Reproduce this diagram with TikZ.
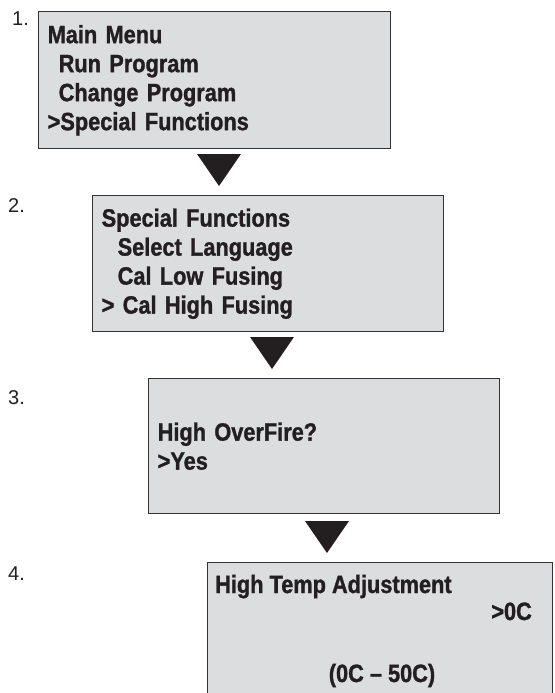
\documentclass[tikz,border=0pt]{standalone}
\usepackage{fontspec}
\setmainfont{Liberation Sans}
\newfontfamily\lcdfont[FakeStretch=0.87, BoldFeatures={FakeBold=1.2}]{Liberation Sans}
\usepackage{xcolor}
\usepackage{tikz}
\usetikzlibrary{positioning}

\definecolor{lcdgray}{HTML}{DCDDDF}
\definecolor{inkblack}{HTML}{231F20}

\tikzset{
  lcdbox/.style = {draw=black!80, line width=1.4pt, fill=lcdgray, align=left,
    anchor=north west, inner xsep=9pt, inner ysep=0pt,
    font=\lcdfont\fontsize{25}{29}\selectfont\bfseries, text=inkblack},
  lcdtext/.style = {inner sep=0pt, font=\lcdfont\fontsize{25}{29}\selectfont\bfseries, text=inkblack},
  steplabel/.style = {inner sep=0pt, anchor=base west, font=\fontsize{20}{22}\selectfont, text=inkblack},
  marker/.style = {fill=inkblack},
}

\begin{document}
\begin{tikzpicture}[x = 1pt, y = -1pt]
    \clip (0, 0) rectangle (554, 693);
    % step numbers
    \node[steplabel] (n1) at (12, 26) {1.};
    \node[steplabel] (n2) at (8, 212) {2.};
    \node[steplabel] (n3) at (8, 404) {3.};
    \node[steplabel] (n4) at (8, 580) {4.};
    % display screens
    \node[lcdbox, text width=334pt, minimum height=137pt] (menu) at (38, 11)
        {Main Menu\\\hspace*{11pt}Run Program\\\hspace*{11pt}Change Program\\>Special Functions};
    \node[lcdbox, text width=333pt, minimum height=136pt] (special) at (92, 195)
        {Special Functions\\\hspace*{16pt}Select Language\\\hspace*{16pt}Cal Low Fusing\\> Cal High Fusing};
    \node[lcdbox, text width=333pt, minimum height=135pt] (overfire) at (148, 378)
        {High OverFire?\\>Yes};
    \node[lcdbox, minimum width=345pt, minimum height=170pt] (adjust) at (207, 562) {};
    \node[lcdtext, anchor=base west] (hta) at (215, 593) {High Temp Adjustment};
    \node[lcdtext, anchor=base east] (setp) at (532, 620) {>0C};
    \node[lcdtext, anchor=base] (range) at (382, 682) {(0C \textendash{} 50C)};
    % down markers
    \coordinate (t1) at (219, 154);
    \coordinate (t2) at (272, 337);
    \coordinate (t3) at (327, 521);
    \fill[marker] (t1) ++(-22, 0) -- ++(44, 0) -- ++(-22, 32) -- cycle;
    \fill[marker] (t2) ++(-22, 0) -- ++(44, 0) -- ++(-22, 32) -- cycle;
    \fill[marker] (t3) ++(-22, 0) -- ++(44, 0) -- ++(-22, 32) -- cycle;
\end{tikzpicture}
\end{document}
